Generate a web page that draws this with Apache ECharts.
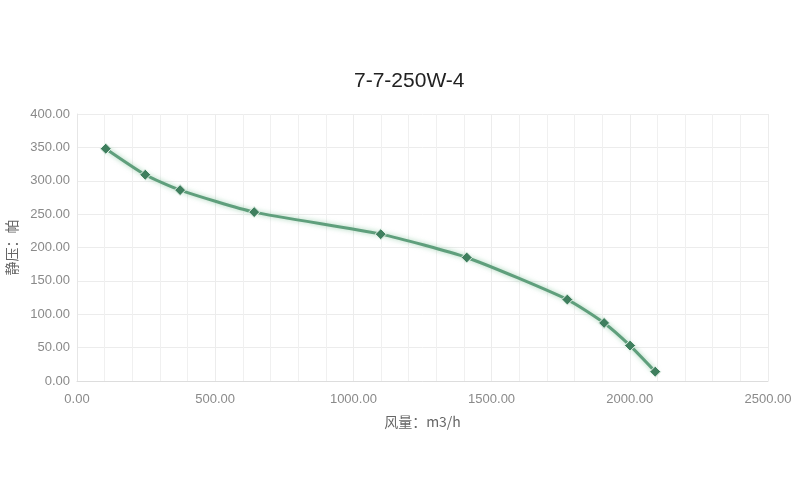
<!DOCTYPE html>
<html><head><meta charset="utf-8">
<script src="https://cdn.jsdelivr.net/npm/echarts@6/dist/echarts.min.js"></script>
<style>html,body{margin:0;padding:0;background:#fff}#c{width:800px;height:500px}</style>
</head><body><div id="c"></div>
<script>
const title = '7-7-250W-4';
const airflow = [104, 247, 373, 641, 1099, 1410, 1774, 1907, 2001, 2092];
const pressure = [348, 309, 286, 253, 220, 185, 122, 87, 53, 14];
const xName = '风量：m3/h';
const yName = '静压：帕';

const chart = echarts.init(document.getElementById('c'));
const fmt = v => Number(v).toFixed(2);
chart.setOption({
  backgroundColor: '#fff',
  title: { text: title, left: 349, top: 66, textStyle: { fontSize: 21, fontWeight: 'normal', color: '#222', fontFamily: 'Liberation Sans, Arial, sans-serif' } },
  grid: { left: 77, right: 32, top: 114, bottom: 119, containLabel: false, outerBoundsMode: 'none' },
  xAxis: {
    type: 'value', min: 0, max: 2500, interval: 500,
    name: xName, nameLocation: 'middle', nameGap: 34,
    nameTextStyle: { color: '#666', fontSize: 14, fontFamily: 'Noto Sans CJK SC, sans-serif' },
    axisLine: { show: true, lineStyle: { color: '#ddd' } },
    axisTick: { show: false },
    axisLabel: { formatter: fmt, color: '#8a8a8a', fontSize: 13, margin: 12 },
    splitLine: { show: true, lineStyle: { color: '#ececec' } },
    minorTick: { show: false, splitNumber: 5 },
    minorSplitLine: { show: true, lineStyle: { color: '#f0f0f0' } }
  },
  yAxis: {
    type: 'value', min: 0, max: 400, interval: 50,
    name: yName, nameLocation: 'middle', nameGap: 58, nameRotate: 90,
    nameTextStyle: { color: '#666', fontSize: 14, fontFamily: 'Noto Sans CJK SC, sans-serif' },
    axisLine: { show: true, lineStyle: { color: '#e6e6e6' } },
    axisTick: { show: false },
    axisLabel: { formatter: fmt, color: '#8a8a8a', fontSize: 13, margin: 7 },
    splitLine: { show: true, lineStyle: { color: '#ececec' } }
  },
  series: [{
    type: 'line', smooth: 0.2,
    data: airflow.map((x, i) => [x, pressure[i]]),
    symbol: 'diamond', symbolSize: 11,
    itemStyle: { color: '#3f7f5e', borderColor: '#e8f4ec', borderWidth: 1 },
    lineStyle: { color: '#5f9f7c', width: 3, shadowColor: 'rgba(100,180,130,0.6)', shadowBlur: 5 }
  }]
});
</script></body></html>
